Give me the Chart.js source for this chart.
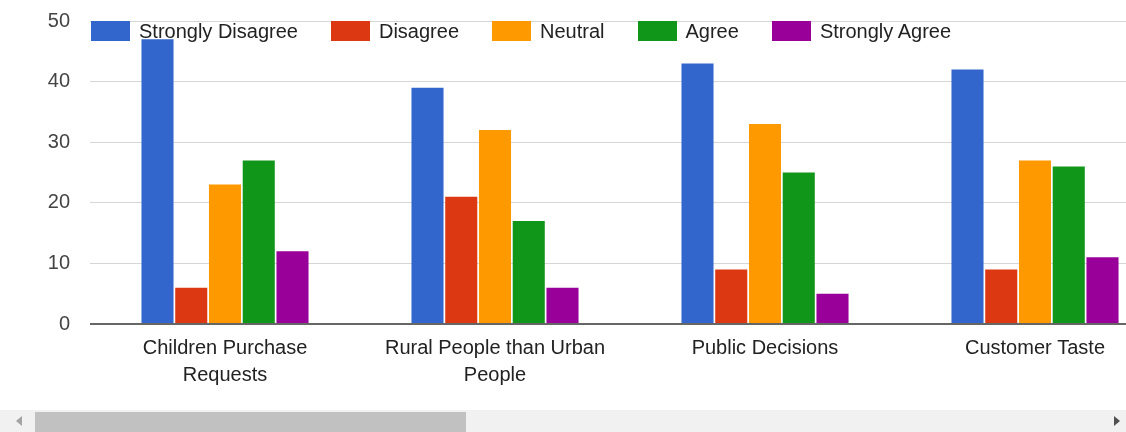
<!DOCTYPE html>
<html>
<head>
<meta charset="utf-8">
<script src="https://cdn.jsdelivr.net/npm/chart.js@4"></script>
<style>
  body { margin: 0; background: #fff; font-family: "Liberation Sans", Arial, sans-serif; }
  #frame { position: relative; width: 1126px; height: 432px; overflow: hidden; }
  #viewport { position: absolute; left: 0; top: 0; width: 1126px; height: 410px; overflow: hidden; }
  #legend { position: absolute; left: 91px; top: 21px; display: flex; }
  .item { display: flex; align-items: center; margin-right: 33px; font-size: 20px; color: #222; height: 20px; }
  .swatch { width: 39px; height: 20px; margin-right: 9px; }
  #track { position: absolute; left: 0; top: 410px; width: 1126px; height: 22px; background: #f1f1f1; }
  #thumb { position: absolute; left: 35px; top: 2px; width: 431px; height: 20px; background: #c1c1c1; }
  .arrow { position: absolute; top: 6px; width: 0; height: 0; border-top: 5px solid transparent; border-bottom: 5px solid transparent; }
  #arrowL { left: 16px; border-right: 6px solid #a3a3a3; }
  #arrowR { left: 1114px; border-left: 6px solid #505050; }
</style>
</head>
<body>
<div id="frame">
  <div id="viewport">
    <canvas id="chart" width="1200" height="410" style="width:1200px;height:410px"></canvas>
    <div id="legend"></div>
  </div>
  <div id="track">
    <div class="arrow" id="arrowL"></div>
    <div id="thumb"></div>
    <div class="arrow" id="arrowR"></div>
  </div>
</div>
<script>
// categorías (etiquetas del eje x, ya partidas en líneas)
const categories = [
  ['Children Purchase', 'Requests'],
  ['Rural People than Urban', 'People'],
  'Public Decisions',
  'Customer Taste'
];

// series
const seriesNames = ['Strongly Disagree', 'Disagree', 'Neutral', 'Agree', 'Strongly Agree'];
const stronglyDisagree = [47, 39, 43, 42];
const disagree         = [6, 21, 9, 9];
const neutral          = [23, 32, 33, 27];
const agree            = [27, 17, 25, 26];
const stronglyAgree    = [12, 6, 5, 11];
const seriesColors = ['#3366cc', '#dc3912', '#ff9900', '#109618', '#990099'];

// eje y
const yTicks = [0, 10, 20, 30, 40, 50];

document.addEventListener('DOMContentLoaded', () => {
  const values = [stronglyDisagree, disagree, neutral, agree, stronglyAgree];
  const datasets = seriesNames.map((name, i) => ({
    label: name,
    data: values[i],
    backgroundColor: seriesColors[i],
    borderWidth: 0,
    barPercentage: 0.95,
    categoryPercentage: 0.625
  }));

  // Leyenda en HTML, encima del área del gráfico
  const legend = document.getElementById('legend');
  datasets.forEach(ds => {
    const item = document.createElement('div');
    item.className = 'item';
    const sw = document.createElement('span');
    sw.className = 'swatch';
    sw.style.background = ds.backgroundColor;
    item.append(sw, document.createTextNode(ds.label));
    legend.append(item);
  });

  const font = { family: '"Liberation Sans", Arial, sans-serif', size: 20 };

  new Chart(document.getElementById('chart'), {
    type: 'bar',
    data: { labels: categories, datasets },
    options: {
      responsive: false,
      animation: false,
      layout: { padding: { top: 21, right: 30, left: 0, bottom: 0 } },
      plugins: { legend: { display: false }, tooltip: { enabled: false } },
      scales: {
        x: {
          grid: { display: false },
          border: { display: false },
          ticks: { color: '#222', font: { ...font, lineHeight: 1.35 }, padding: 3, maxRotation: 0, autoSkip: false },
          afterFit: s => { s.height = 86; }
        },
        y: {
          min: yTicks[0],
          max: yTicks[yTicks.length - 1],
          afterBuildTicks: s => { s.ticks = yTicks.map(v => ({ value: v })); },
          border: { display: false },
          grid: {
            drawTicks: false,
            color: c => c.tick && c.tick.value === 0 ? '#666' : '#d6d6d6',
            lineWidth: c => c.tick && c.tick.value === 0 ? 2 : 1
          },
          ticks: { color: '#444', font, padding: 20 },
          afterFit: s => { s.width = 90; s.paddingTop = 0; s.paddingBottom = 0; }
        }
      }
    }
  });
});
</script>
</body>
</html>
